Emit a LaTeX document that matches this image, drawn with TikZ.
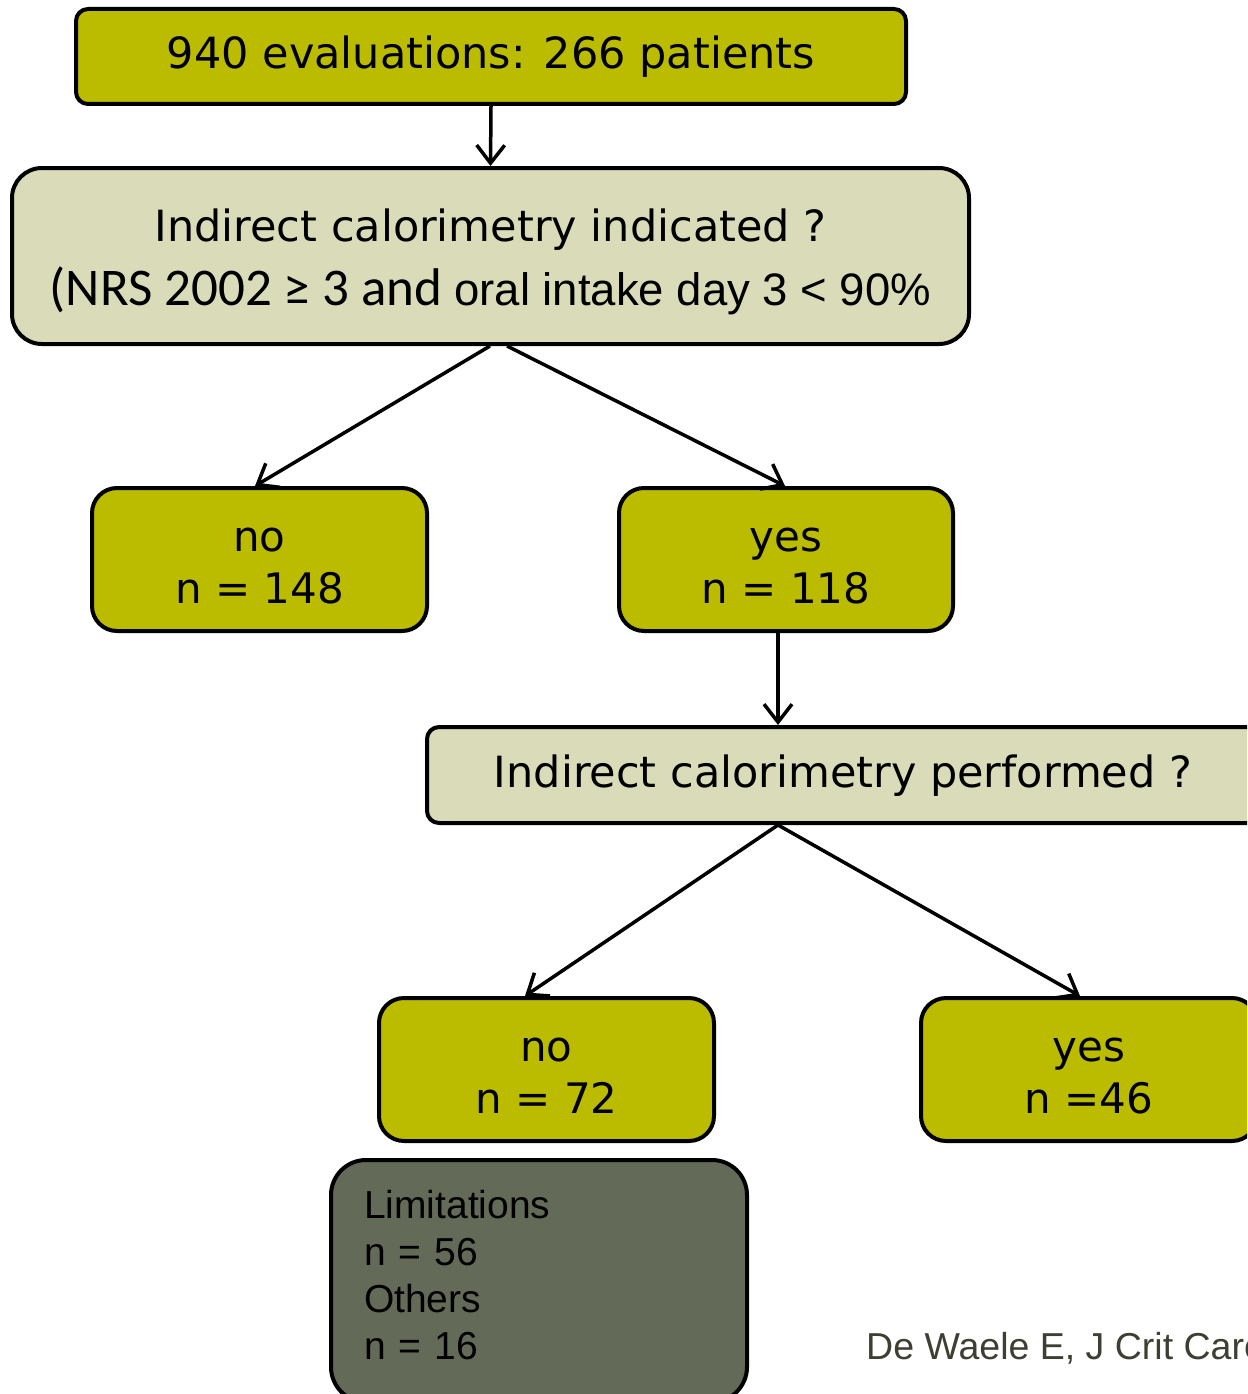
\documentclass[tikz,border=0pt]{standalone}
\usepackage{fontspec}
\setmainfont{DejaVu Sans}
\newfontfamily\carl{Carlito}
\newfontfamily\arialf{Liberation Sans}
\usetikzlibrary{arrows.meta,calc}
\definecolor{oliveA}{RGB}{187,188,0}
\definecolor{beigeA}{RGB}{218,219,185}
\definecolor{limgray}{RGB}{99,106,87}
\definecolor{citecol}{RGB}{62,63,50}
\begin{document}
\begin{tikzpicture}[x=1pt,y=-1pt,
  box/.style={draw=black, line width=4pt, inner sep=0pt},
  greenbox/.style={box, fill=oliveA, rounded corners=25pt, minimum width=335pt, minimum height=143pt, align=center, font=\fontsize{42}{52}\selectfont},
  qbox/.style={box, fill=beigeA},
  conn/.style={line width=3.5pt, -{Straight Barb[length=18pt,width=28pt]}},
]
\useasboundingbox (0,0) rectangle (1247,1394);
\clip (0,0) rectangle (1247,1394);

\node[box, fill=oliveA, rounded corners=12pt, minimum width=830pt, minimum height=95pt,
      text height=35pt, text depth=10pt, font=\fontsize{43}{52}\selectfont] (b1) at (491,56.5)
  {940 evaluations: 266 patients};

\node[qbox, rounded corners=30pt, minimum width=957pt, minimum height=176pt, align=center,
      font=\fontsize{43}{64}\selectfont] (b2) at (490.5,256)
  {\rule{0pt}{44pt}Indirect calorimetry indicated ?\\
   {\carl\fontsize{53}{64}\selectfont (NRS 2002 ≥ 3 and }{\arialf\fontsize{45.5}{64}\selectfont oral intake day 3 < 90\%}\rule[-10pt]{0pt}{10pt}};

\node[greenbox] (no1) at (259.5,559.5) {\rule{0pt}{40pt}no\\n = 148\rule[-5pt]{0pt}{5pt}};
\node[greenbox, minimum width=334pt] (yes1) at (786,559.5) {\rule{0pt}{40pt}yes\\n = 118\rule[-5pt]{0pt}{5pt}};

\node[qbox, rounded corners=12pt, minimum width=832pt, minimum height=96pt,
      text height=34pt, text depth=10pt, font=\fontsize{43}{52}\selectfont] (b3) at (843,775)
  {Indirect calorimetry performed ?};

\node[greenbox] (no2) at (546.5,1069.5) {\rule{0pt}{40pt}no\\n = 72\rule[-5pt]{0pt}{5pt}};
\node[greenbox, minimum width=336pt] (yes2) at (1089,1069.5) {\rule{0pt}{40pt}yes\\n =46\rule[-5pt]{0pt}{5pt}};

\node[box, fill=limgray, rounded corners=35pt, anchor=north, minimum width=416pt,
      text width=350pt, inner xsep=33pt, inner ysep=28pt, align=left,
      font=\arialf\fontsize{39}{47}\selectfont] (lim) at (539,1158)
  {\rule{0pt}{30pt}Limitations\\n = 56\\Others\\n = 16\rule[-15pt]{0pt}{15pt}};

\node[anchor=base west, inner sep=0pt, text=citecol, font=\arialf\fontsize{37.5}{43}\selectfont] (cite) at (866,1359)
  {De Waele E, J Crit Care};

\draw[conn] (b1.south) -- (b2.north);
\draw[conn] ([xshift=-0.5pt]b2.south) -- ([xshift=-4.5pt]no1.north);
\draw[conn] ([xshift=16.5pt]b2.south) -- ([xshift=-1pt]yes1.north);
\draw[conn] ([xshift=-8pt]yes1.south) -- ([xshift=-8pt]yes1.south |- b3.north);
\draw[conn] ([xshift=-65pt]b3.south) -- ([xshift=-21.5pt]no2.north);
\draw[conn] ([xshift=-65pt]b3.south) -- ([xshift=-9pt]yes2.north);
\end{tikzpicture}
\end{document}
